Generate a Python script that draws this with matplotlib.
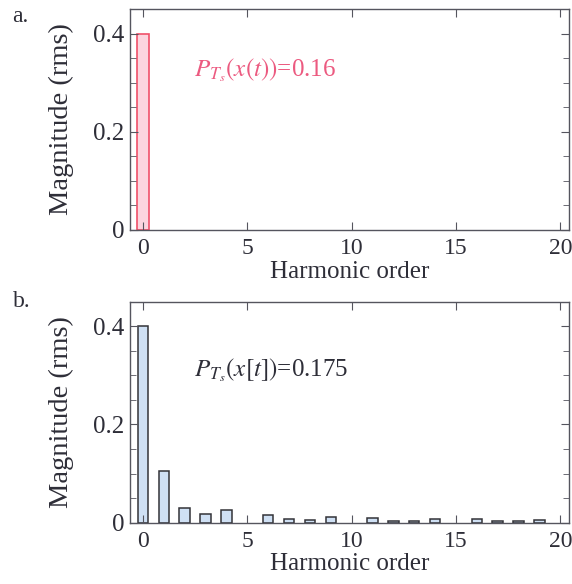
import matplotlib
matplotlib.use("Agg")
import matplotlib.pyplot as plt
from matplotlib.ticker import MultipleLocator

# Harmonic spectra
harmonics_a = [0]
magnitude_a = [0.40]

harmonics_b = list(range(0, 21))
magnitude_b = [0.400, 0.105, 0.030, 0.018, 0.025, 0.0, 0.016, 0.008, 0.006, 0.011,
               0.0, 0.009, 0.004, 0.004, 0.007, 0.0, 0.007, 0.004, 0.004, 0.005, 0.0]

xticks = [0, 5, 10, 15, 20]
yticks = [0, 0.2, 0.4]
ytick_labels = ["0", "0.2", "0.4"]

label_a = r"$P_{T_s}(x(t))$=0.16"
label_b = r"$P_{T_s}(x[t])$=0.175"

plt.rcParams["font.family"] = ["Liberation Serif", "DejaVu Serif"]
plt.rcParams["mathtext.fontset"] = "stix"

text_color = "#2e2e38"
spine_color = "#55555e"

fig = plt.figure(figsize=(5.72, 5.84), dpi=100)
ax_a = fig.add_axes([0.2273, 0.6062, 0.7675, 0.3784])
ax_b = fig.add_axes([0.2273, 0.1053, 0.7675, 0.3776])


def style(ax):
    ax.set_xlim(-0.62, 20.42)
    ax.set_ylim(0, 0.45)
    ax.set_xticks(xticks)
    ax.set_xticklabels([str(t) for t in xticks])
    ax.set_yticks(yticks)
    ax.set_yticklabels(ytick_labels)
    ax.yaxis.set_minor_locator(MultipleLocator(0.05))
    ax.tick_params(which="both", direction="in", top=True, right=True,
                   colors=spine_color, labelcolor=text_color)
    ax.tick_params(axis="x", labelsize=17, pad=6)
    ax.tick_params(axis="y", labelsize=18, pad=4)
    ax.tick_params(which="major", length=6, width=0.8)
    ax.tick_params(which="minor", length=4, width=0.6)
    for s in ax.spines.values():
        s.set_color(spine_color)
        s.set_linewidth(1.0)
    ax.set_xlabel("Harmonic order", fontsize=18, color=text_color, labelpad=1)
    ax.set_ylabel("Magnitude (rms)", fontsize=20.5, color=text_color, labelpad=14)


ax_a.bar(harmonics_a, magnitude_a, width=0.57, color="#fcd5df",
         edgecolor="#f0506a", linewidth=1.2)
style(ax_a)
ax_a.text(2.45, 0.325, label_a, fontsize=18, color="#ec5a80", va="center")

nonzero = [(h, m) for h, m in zip(harmonics_b, magnitude_b) if m > 0]
ax_b.bar([h for h, _ in nonzero], [m for _, m in nonzero], width=0.5,
         color="#cfe0f4", edgecolor="#333338", linewidth=1.1)
style(ax_b)
ax_b.text(2.45, 0.31, label_b, fontsize=18, color=text_color, va="center")

fig.text(0.022, 0.962, "a.", fontsize=17, color=text_color)
fig.text(0.022, 0.474, "b.", fontsize=17, color=text_color)

fig.savefig("out.png", dpi=100)
